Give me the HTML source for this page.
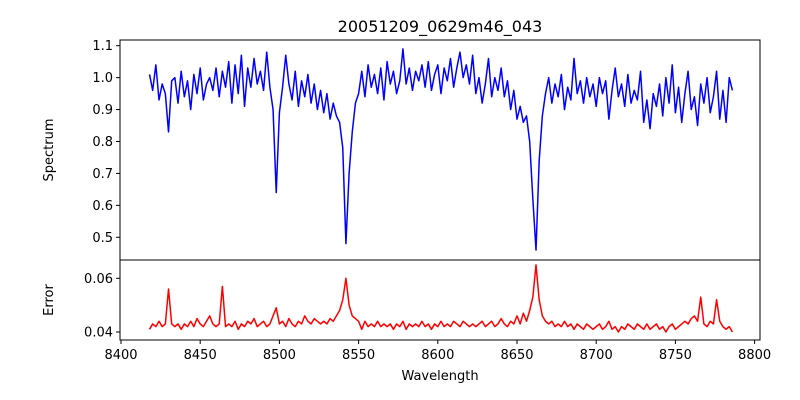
<!DOCTYPE html>
<html><head><meta charset="utf-8"><style>
html,body{margin:0;padding:0;background:#fff}
svg{display:block;font-family:"DejaVu Sans","Liberation Sans",sans-serif}
</style></head><body>
<svg id="chart" width="800" height="400" viewBox="0 0 800 400"></svg>
<script>
const wlStart = 8418, wlEnd = 8786;
const xTicks = [8400,8450,8500,8550,8600,8650,8700,8750,8800];
const specTicks = [0.5,0.6,0.7,0.8,0.9,1.0,1.1];
const specTickLabels = ["0.5","0.6","0.7","0.8","0.9","1.0","1.1"];
const errTicks = [0.04,0.06];
const errTickLabels = ["0.04","0.06"];
const spectrum = [1.01,0.96,1.04,0.93,0.98,0.95,
0.83,0.99,1.00,0.92,1.02,0.94,0.99,0.90,1.01,0.95,1.03,0.93,0.98,1.00,0.96,1.03,0.94,1.02,0.97,1.05,0.92,1.04,0.95,1.07,0.91,1.03,0.97,1.06,0.98,1.02,0.96,1.08,0.97,0.90,
0.64,0.89,0.97,1.07,0.98,0.93,1.02,0.91,0.99,0.94,1.01,0.92,0.98,0.90,0.96,0.89,0.95,0.87,0.92,0.88,0.86,0.78,
0.48,0.70,0.83,0.92,0.95,1.02,0.94,1.04,0.97,1.01,0.95,1.03,0.93,1.05,0.98,1.02,0.95,0.99,1.09,0.98,1.03,0.96,1.02,0.99,1.04,0.97,1.05,0.96,1.01,1.04,0.95,1.03,0.99,1.06,0.97,1.03,1.08,1.00,1.04,0.98,1.07,0.95,1.00,0.92,0.98,1.06,0.94,1.00,0.96,1.03,0.94,0.99,0.90,0.96,0.87,0.91,0.86,0.88,0.80,0.62,
0.46,0.74,0.88,0.95,1.00,0.92,0.98,0.94,1.01,0.90,0.97,0.93,1.06,0.95,0.99,0.92,1.00,0.94,0.98,0.91,1.00,0.95,0.99,0.87,0.96,1.03,0.94,0.98,0.91,1.01,0.92,0.96,0.93,1.02,0.86,0.93,0.84,0.95,0.91,0.98,0.88,1.00,0.92,1.04,0.89,0.97,0.86,0.95,1.02,0.90,0.94,0.85,0.98,0.92,1.00,0.89,0.94,1.02,0.87,0.96,0.86,1.00,0.96];
const errors = [0.041,0.043,0.042,0.044,0.042,0.043,
0.056,0.043,0.042,0.043,0.041,0.043,0.042,0.044,0.042,0.045,0.043,0.042,0.044,0.046,0.043,0.042,0.043,0.057,0.042,0.043,0.042,0.044,0.041,0.043,0.042,0.044,0.043,0.045,0.042,0.043,0.044,0.042,0.043,0.046,
0.049,0.043,0.044,0.042,0.045,0.043,0.042,0.044,0.043,0.046,0.044,0.043,0.045,0.044,0.043,0.044,0.043,0.045,0.044,0.046,0.048,0.052,
0.060,0.050,0.046,0.045,0.044,0.041,0.044,0.042,0.043,0.042,0.044,0.042,0.043,0.042,0.043,0.041,0.043,0.042,0.044,0.041,0.043,0.042,0.043,0.042,0.044,0.042,0.043,0.041,0.043,0.042,0.044,0.042,0.043,0.042,0.044,0.043,0.042,0.044,0.043,0.042,0.043,0.042,0.043,0.044,0.042,0.043,0.044,0.042,0.043,0.045,0.043,0.042,0.044,0.043,0.046,0.043,0.047,0.044,0.048,0.053,
0.065,0.052,0.046,0.044,0.043,0.044,0.042,0.043,0.042,0.044,0.042,0.043,0.041,0.043,0.042,0.041,0.043,0.042,0.041,0.042,0.043,0.041,0.042,0.044,0.041,0.042,0.040,0.042,0.041,0.043,0.042,0.041,0.043,0.042,0.041,0.043,0.041,0.042,0.043,0.041,0.042,0.040,0.042,0.043,0.041,0.042,0.043,0.044,0.043,0.045,0.046,0.044,0.053,0.043,0.042,0.044,0.043,0.052,0.044,0.042,0.041,0.042,0.040];

const NS = "http://www.w3.org/2000/svg";
const svg = document.getElementById('chart');
const L = 120, R = 760, T1 = 40, B1 = 260, T2 = 260, B2 = 340;
function xs(w){ return 121 + (w - 8400) * (79.2/50); }
function ys1(v){ return 45.7 + (1.1 - v) * 319.3; }
function ys2(v){ return 278.3 + (0.06 - v) * (53.7/0.02); }
function wlAt(i, n){ return wlStart + (wlEnd - wlStart) * i / (n - 1); }
function mk(tag, attrs, parent){
  const e = document.createElementNS(NS, tag);
  for (const k in attrs) e.setAttribute(k, attrs[k]);
  (parent || svg).appendChild(e);
  return e;
}
function txt(s, attrs){ const e = mk('text', attrs); e.textContent = s; return e; }

// series
let d1 = spectrum.map((v,i)=>(i?'L':'M')+xs(wlAt(i,spectrum.length)).toFixed(2)+' '+ys1(v).toFixed(2)).join(' ');
const p1 = mk('path', {d:d1, fill:'none', stroke:'#0000ff', 'stroke-width':1.5, 'stroke-linejoin':'round'});


let d2 = errors.map((v,i)=>(i?'L':'M')+xs(wlAt(i,errors.length)).toFixed(2)+' '+ys2(v).toFixed(2)).join(' ');
const p2 = mk('path', {d:d2, fill:'none', stroke:'#ff0000', 'stroke-width':1.5, 'stroke-linejoin':'round'});



// frames
const f1 = mk('rect', {x:L, y:T1, width:R-L, height:B1-T1, fill:'none', stroke:'#000', 'stroke-width':1});


const f2 = mk('rect', {x:L, y:T2, width:R-L, height:B2-T2, fill:'none', stroke:'#000', 'stroke-width':1});



// x ticks
xTicks.forEach(t=>{
  const x = xs(t);
  mk('line', {x1:x, x2:x, y1:B2, y2:B2+4, stroke:'#000'});
  const e = txt(String(t), {x:x, y:B2+19, 'font-size':13, 'text-anchor':'middle', fill:'#000'});
  
  
});
specTicks.forEach((t,i)=>{
  const y = ys1(t);
  mk('line', {x1:L-4, x2:L, y1:y, y2:y, stroke:'#000'});
  const e = txt(specTickLabels[i], {x:L-7, y:y+4.5, 'font-size':13, 'text-anchor':'end', fill:'#000'});
  
  
});
errTicks.forEach((t,i)=>{
  const y = ys2(t);
  mk('line', {x1:L-4, x2:L, y1:y, y2:y, stroke:'#000'});
  const e = txt(errTickLabels[i], {x:L-7, y:y+4.5, 'font-size':13, 'text-anchor':'end', fill:'#000'});
  
  
});

const title = txt('20051209_0629m46_043', {x:440, y:32, 'font-size':16, 'text-anchor':'middle', fill:'#000'});


const xl = txt('Wavelength', {x:440, y:380, 'font-size':13, 'text-anchor':'middle', fill:'#000'});


const yl1 = txt('Spectrum', {x:0, y:0, 'font-size':13, 'text-anchor':'middle', fill:'#000', transform:'translate(53,150) rotate(-90)'});


const yl2 = txt('Error', {x:0, y:0, 'font-size':13, 'text-anchor':'middle', fill:'#000', transform:'translate(53,300) rotate(-90)'});


</script>
</body></html>
